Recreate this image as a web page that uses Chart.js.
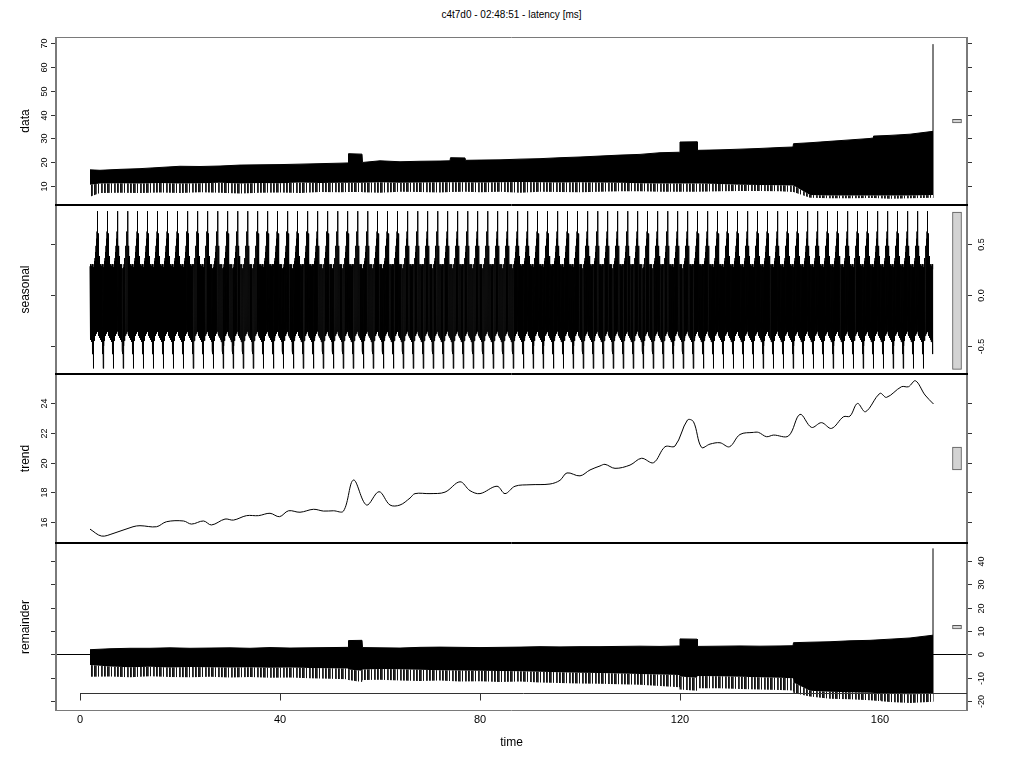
<!DOCTYPE html>
<html lang="en">
<head>
<meta charset="UTF-8">
<title>c4t7d0 - latency STL</title>
<script src="https://cdn.jsdelivr.net/npm/chart.js"></script>
<style>
  body { margin: 0; background: #fff; font-family: "Liberation Sans", Arial, sans-serif; }
  #wrap { position: relative; width: 1024px; height: 768px; overflow: hidden; }
  #wrap canvas { position: absolute; left: 0; }
  #main-title { position: absolute; top: 9px; left: 56px; width: 911px; text-align: center; font-size: 10px; color: #000; }
</style>
</head>
<body>
<div id="wrap">
  <div id="main-title">c4t7d0 - 02:48:51 - latency [ms]</div>
  <canvas id="c-data" width="1024" height="168" style="top:37px"></canvas>
  <canvas id="c-seasonal" width="1024" height="169" style="top:205px"></canvas>
  <canvas id="c-trend" width="1024" height="169" style="top:374px"></canvas>
  <canvas id="c-remainder" width="1024" height="225" style="top:543px"></canvas>
</div>

<script>
// time axis
const timeMin = -4.8, timeMax = 177.4;
const timeTicks = [0, 40, 80, 120, 160];

// data panel: upper edge, dense lower edge, lowest spikes
const dataTime = [2, 4, 8, 12, 16, 20, 24, 28, 32, 36, 40, 44, 48, 52, 53.6, 53.7, 56.4, 56.5, 60, 64, 68, 72, 74, 74.1, 77, 77.1, 80, 84, 88, 92, 96, 100, 104, 108, 112, 116, 119.9, 120, 123.4, 123.5, 128, 132, 136, 140, 142.6, 142.7, 146, 150, 154, 158, 158.6, 158.7, 162, 166, 170.6];
const dataHigh = [16.8, 16.6, 17.0, 17.3, 17.8, 18.3, 18.2, 18.4, 18.8, 18.9, 19.0, 19.2, 19.4, 19.6, 19.7, 23.6, 23.4, 19.9, 20.6, 20.2, 20.4, 20.5, 20.6, 21.9, 21.8, 20.8, 20.9, 21.0, 21.3, 21.5, 21.9, 22.2, 22.6, 23.0, 23.3, 24.0, 24.2, 28.5, 28.6, 25.0, 25.2, 25.5, 25.8, 26.2, 26.4, 27.8, 28.2, 28.8, 29.4, 30.0, 30.2, 31.0, 31.3, 31.8, 33.0];
const dataLow = [10.5, 11, 11.2, 11, 11.3, 11, 11.2, 11.4, 11, 11.3, 11.2, 11.5, 11.3, 11.4, 11.4, 11.4, 11.4, 11.4, 11.6, 11.4, 11.5, 11.6, 11.6, 11.6, 11.6, 11.6, 11.5, 11.6, 11.7, 11.6, 11.5, 11.6, 11.5, 11.4, 11.2, 11.0, 11.0, 11.0, 11.0, 11.0, 10.8, 10.5, 10.4, 10.3, 10.2, 10.2, 6.2, 6.0, 6.0, 6.0, 6.0, 6.0, 6.0, 6.0, 6.2];
const dataMin = [5.5, 7.0, 7.2, 7.0, 7.3, 7.0, 7.4, 7.2, 6.8, 7.2, 7.3, 7.0, 7.5, 7.4, 7.5, 7.5, 7.5, 7.4, 7.2, 7.6, 7.5, 7.3, 7.5, 7.5, 7.6, 7.6, 7.4, 7.6, 7.2, 7.6, 7.5, 7.4, 7.6, 7.8, 7.8, 7.6, 7.6, 7.6, 7.6, 7.6, 7.8, 7.9, 7.9, 7.8, 7.5, 7.5, 5.0, 4.8, 4.8, 4.9, 4.9, 4.9, 4.6, 4.8, 5.0];
const dataSpikeTime = 170.6, dataSpikeValue = 69.7;
const dataTicks = [10, 20, 30, 40, 50, 60, 70];

// seasonal panel: one period of the seasonal component, repeated
const seasonalCycle = [0.28, -0.42, 0.30, -0.44, 0.27, -0.46, 0.28, -0.43, 0.30, -0.55,
                       0.26, -0.58, 0.25, -0.72, 0.27, -0.50, 0.30, -0.45, 0.33, -0.42,
                       0.36, -0.40, 0.42, -0.40, 0.48, -0.38, 0.55, -0.37, 0.62, -0.36,
                       0.82, -0.36, 0.60, -0.38, 0.48, -0.40, 0.38, -0.41, 0.30, -0.42];
const seasonalStart = 2, seasonalPeriod = 2, seasonalEnd = 170.6;
const seasonalTicks = [-0.5, 0, 0.5];

// trend panel
const trendTime = [2, 4.3, 6.6, 10.6, 12, 15.3, 17.3, 20.7, 22.3, 24.7, 26.3, 29, 30.7, 33.3, 35.7, 38, 39.9, 41.7, 44, 46.7, 48.7, 50.7, 52.7, 54.7, 57.3, 59.8, 62, 64, 66, 67, 70, 73, 76, 78, 80, 83.4, 85, 87, 90, 94, 96, 97.4, 100, 102, 104, 105, 107, 110, 112.3, 114.7, 117, 119, 121.5, 122.7, 124.3, 126, 128, 129.9, 132, 134.7, 135.7, 137.3, 138.7, 141.7, 144, 146.3, 148.3, 150.3, 152.7, 154, 155.5, 157.1, 160, 161.3, 164.3, 165.7, 167.1, 169, 170.7];
const trendValue = [15.5, 15.03, 15.2, 15.66, 15.73, 15.66, 16.0, 16.05, 15.84, 16.05, 15.78, 16.18, 16.11, 16.41, 16.41, 16.57, 16.34, 16.74, 16.64, 16.84, 16.72, 16.74, 16.72, 18.82, 17.13, 18.03, 17.13, 17.13, 17.6, 17.9, 17.9, 18.0, 18.7, 18.1, 17.9, 18.4, 17.9, 18.4, 18.5, 18.55, 18.8, 19.3, 19.1, 19.5, 19.77, 19.88, 19.61, 19.83, 20.29, 19.99, 21.07, 21.12, 22.88, 22.76, 21.03, 21.25, 21.34, 21.07, 21.9, 22.04, 22.04, 21.75, 21.86, 21.8, 23.26, 22.38, 22.7, 22.31, 23.1, 23.14, 24.0, 23.44, 24.68, 24.41, 25.13, 25.13, 25.53, 24.57, 23.96];
const trendTicks = [16, 18, 20, 22, 24];

// remainder panel
const remTime = [2, 6, 10, 14, 18, 22, 26, 30, 34, 38, 42, 46, 50, 53.6, 53.7, 56.4, 56.5, 60, 64, 68, 72, 76, 80, 84, 88, 92, 96, 100, 104, 108, 112, 116, 119.9, 120, 123.4, 123.5, 128, 132, 136, 140, 142.6, 142.7, 146, 150, 154, 158, 162, 166, 170.6];
const remHigh = [2.0, 2.4, 2.6, 2.6, 2.8, 2.6, 2.7, 2.8, 2.6, 2.9, 2.7, 2.8, 2.9, 3.0, 5.9, 6.0, 2.9, 2.8, 2.7, 3.0, 3.1, 3.0, 2.9, 3.0, 3.1, 3.3, 3.2, 3.3, 3.3, 3.4, 3.5, 3.4, 3.6, 6.6, 6.5, 3.4, 3.5, 3.6, 3.5, 3.6, 3.7, 5.0, 5.2, 5.4, 5.8, 6.0, 6.5, 7.0, 8.2];
const remLow = [-4.5, -5.2, -5.5, -5.3, -5.6, -5.4, -5.5, -5.6, -5.5, -5.7, -5.6, -5.8, -5.9, -6.0, -6.5, -7.0, -6.5, -6.3, -6.4, -6.6, -6.8, -6.9, -7.0, -7.1, -7.2, -7.4, -7.6, -7.8, -8.0, -8.2, -8.4, -8.6, -8.8, -9.5, -10.0, -9.2, -9.4, -9.6, -9.8, -10.0, -10.2, -12.0, -15.5, -16.0, -16.2, -16.4, -16.8, -17.0, -16.8];
const remMin = [-9.6, -9.5, -9.8, -9.4, -9.7, -9.8, -9.6, -9.9, -9.7, -10.0, -9.9, -10.2, -10.4, -10.6, -11.0, -11.8, -11.0, -10.8, -11.2, -11.4, -11.2, -11.6, -11.5, -11.8, -11.6, -12.0, -12.2, -12.4, -12.6, -12.8, -13.0, -13.5, -14.0, -15.0, -15.5, -14.5, -14.5, -14.8, -15.0, -15.2, -15.4, -16.5, -18.0, -19.0, -19.2, -19.6, -20.4, -20.8, -20.2];
const remSpikeTime = 170.6, remSpikeValue = 45.3;
const remTicks = [-20, -10, 0, 10, 20, 30, 40];

// grey range bars (same height in every panel)
const rangeBarTime = 175.4;
const dataRangeBar = [36.5, 38.1];
const seasonalRangeBar = [-0.73, 0.81];
const trendRangeBar = [19.5, 21.05];
const remRangeBar = [10.9, 12.45];

Chart.defaults.font.family = '"Liberation Sans", Arial, sans-serif';
Chart.defaults.color = '#000';

function pts(xs, ys) {
  return xs.map((x, i) => ({ x: x, y: ys[i] }));
}

function seasonalPoints() {
  const out = [];
  const step = seasonalPeriod / seasonalCycle.length;
  for (let k = 0; seasonalStart + k * seasonalPeriod <= seasonalEnd; k++) {
    const t0 = seasonalStart + k * seasonalPeriod;
    seasonalCycle.forEach((v, i) => {
      const t = t0 + i * step;
      if (t <= seasonalEnd) out.push({ x: t, y: v });
    });
  }
  return out;
}

// vertical hatch so the spiky lower edge reads as thin lines, not a flat band
function hatch() {
  const c = document.createElement('canvas');
  c.width = 13; c.height = 4;
  const g = c.getContext('2d');
  g.fillStyle = '#fff'; g.fillRect(0, 0, 13, 4);
  [[0, '#111'], [1, '#333'], [3, '#111'], [4, '#222'], [5, '#555'], [7, '#111'], [10, '#222'], [11, '#444']]
    .forEach(([i, col]) => { g.fillStyle = col; g.fillRect(i, 0, 1, 4); });
  return g.createPattern(c, 'repeat');
}

function envelope(xs, hi, lo, mn) {
  return [
    { data: pts(xs, hi), borderColor: '#000', borderWidth: 1, backgroundColor: '#000', fill: '+1' },
    { data: pts(xs, lo), borderColor: 'rgba(0,0,0,0)', borderWidth: 0, backgroundColor: hatch(), fill: '+1' },
    { data: pts(xs, mn), borderColor: 'rgba(0,0,0,0)', borderWidth: 0, fill: false }
  ];
}

function spike(t, from, to) {
  return { data: [{ x: t, y: from }, { x: t, y: to }], borderColor: '#000', borderWidth: 1, fill: false };
}

function rangeBar(r) {
  return {
    type: 'bar', data: [{ x: rangeBarTime, y: r }],
    backgroundColor: '#d3d3d3', borderColor: '#555', borderWidth: 1,
    barThickness: 9, borderSkipped: false
  };
}

// frame, tick marks, rotated tick labels, zero line, time axis
function decor(cfg) {
  return {
    id: 'decor',
    afterDatasetsDraw(chart) {
      const { ctx, chartArea: a, scales } = chart;
      const y = scales.y, x = scales.x;
      ctx.save();
      if (cfg.zeroLine) {
        const zy = Math.round(y.getPixelForValue(0)) + 0.5;
        ctx.strokeStyle = '#000'; ctx.lineWidth = 1;
        ctx.beginPath(); ctx.moveTo(a.left, zy); ctx.lineTo(a.right, zy); ctx.stroke();
      }
      // box
      ctx.lineWidth = 2; ctx.strokeStyle = '#7a7a7a';
      ctx.beginPath();
      ctx.moveTo(a.left, a.top); ctx.lineTo(a.left, a.bottom);
      ctx.moveTo(a.right, a.top); ctx.lineTo(a.right, a.bottom);
      ctx.stroke();
      ctx.lineWidth = 1;
      ctx.strokeStyle = cfg.topColor;
      ctx.beginPath(); ctx.moveTo(a.left - 1, a.top + 0.5); ctx.lineTo(a.right + 1, a.top + 0.5); ctx.stroke();
      ctx.strokeStyle = cfg.bottomColor;
      ctx.beginPath(); ctx.moveTo(a.left - 1, a.bottom - 0.5); ctx.lineTo(a.right + 1, a.bottom - 0.5); ctx.stroke();
      // y ticks on both sides, labels on one side
      ctx.strokeStyle = '#333'; ctx.fillStyle = '#000';
      ctx.font = '9px "Liberation Sans", Arial, sans-serif';
      cfg.ticks.forEach(v => {
        const py = Math.round(y.getPixelForValue(v)) + 0.5;
        ctx.beginPath();
        ctx.moveTo(a.left - 1, py); ctx.lineTo(a.left - 5, py);
        ctx.moveTo(a.right + 1, py); ctx.lineTo(a.right + 5, py);
        ctx.stroke();
        const lx = cfg.side === 'left' ? a.left - 11 : a.right + 15;
        ctx.save();
        ctx.translate(lx, py); ctx.rotate(-Math.PI / 2);
        ctx.textAlign = 'center'; ctx.textBaseline = 'middle';
        ctx.fillText(v.toFixed(cfg.decimals), 0, 0);
        ctx.restore();
      });
      if (cfg.timeAxis) {
        const ay = a.bottom - 17.5;
        ctx.strokeStyle = '#333';
        ctx.beginPath();
        ctx.moveTo(x.getPixelForValue(timeTicks[0]), ay); ctx.lineTo(a.right, ay);
        timeTicks.forEach(t => {
          const px = Math.round(x.getPixelForValue(t)) + 0.5;
          ctx.moveTo(px, ay); ctx.lineTo(px, ay + 7);
        });
        ctx.stroke();
      }
      ctx.restore();
    }
  };
}

function panelChart(id, cfg) {
  return new Chart(document.getElementById(id), {
    type: 'line',
    data: { datasets: cfg.datasets },
    options: {
      responsive: false,
      animation: false,
      events: [],
      layout: { padding: { left: 0, right: 57, top: 0, bottom: 0 } },
      plugins: { legend: { display: false }, tooltip: { enabled: false } },
      elements: { point: { radius: 0 }, line: { tension: 0 } },
      scales: {
        x: {
          type: 'linear', min: timeMin, max: timeMax, offset: false,
          display: !!cfg.timeAxis,
          afterFit: s => { s.height = cfg.timeAxis ? 57 : 0; },
          afterBuildTicks: s => { s.ticks = timeTicks.map(v => ({ value: v })); },
          grid: { display: false, drawTicks: false },
          border: { display: false },
          ticks: { padding: 2, font: { size: 11 }, maxRotation: 0 },
          title: { display: true, text: 'time', font: { size: 12 }, padding: { top: 0, bottom: 18 } }
        },
        y: {
          type: 'linear', min: cfg.min, max: cfg.max, position: 'left',
          afterFit: s => { s.width = 56; },
          ticks: { display: false },
          grid: { display: false },
          border: { display: false },
          title: { display: true, text: cfg.label, font: { size: 12 }, padding: { top: 18, bottom: 0 } }
        }
      }
    },
    plugins: [decor(cfg)]
  });
}

panelChart('c-data', {
  label: 'data', min: 2.0, max: 72.7, ticks: dataTicks, decimals: 0, side: 'left',
  topColor: '#7a7a7a', bottomColor: '#000',
  datasets: envelope(dataTime, dataHigh, dataLow, dataMin)
    .concat([spike(dataSpikeTime, dataMin[dataMin.length - 1], dataSpikeValue), rangeBar(dataRangeBar)])
});

panelChart('c-seasonal', {
  label: 'seasonal', min: -0.775, max: 0.88, ticks: seasonalTicks, decimals: 1, side: 'right',
  topColor: '#000', bottomColor: '#000',
  datasets: [
    { data: seasonalPoints(), borderColor: '#000', borderWidth: 1, fill: false },
    rangeBar(seasonalRangeBar)
  ]
});

panelChart('c-trend', {
  label: 'trend', min: 14.56, max: 25.99, ticks: trendTicks, decimals: 0, side: 'left',
  topColor: '#000', bottomColor: '#000',
  datasets: [
    { data: pts(trendTime, trendValue), borderColor: '#000', borderWidth: 1, tension: 0.35, fill: false },
    rangeBar(trendRangeBar)
  ]
});

panelChart('c-remainder', {
  label: 'remainder', min: -24.2, max: 47.6, ticks: remTicks, decimals: 0, side: 'right',
  topColor: '#000', bottomColor: '#7a7a7a', zeroLine: true, timeAxis: true,
  datasets: envelope(remTime, remHigh, remLow, remMin)
    .concat([spike(remSpikeTime, remMin[remMin.length - 1], remSpikeValue), rangeBar(remRangeBar)])
});
</script>
</body>
</html>
